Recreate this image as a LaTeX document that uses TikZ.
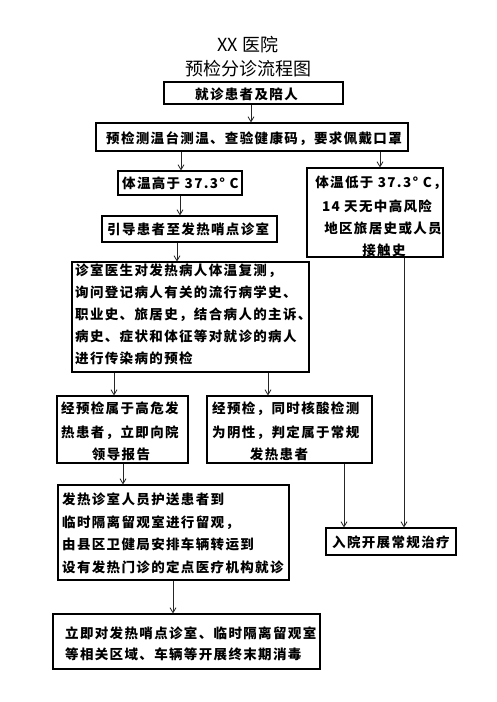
\documentclass[tikz,border=0pt]{standalone}
\usepackage{fontspec}
\usetikzlibrary{arrows.meta}
\newfontfamily\cjk{Noto Sans CJK SC}
\newfontfamily\cjkb{Noto Sans CJK SC}[LetterSpace=10]
\begin{document}
\begin{tikzpicture}[x=1pt,y=-1pt,
  box/.style={draw=black,line width=1.1pt,inner sep=0pt},
  tl/.style={font=\cjkb\bfseries\fontsize{13.5}{15}\selectfont,inner sep=0pt,anchor=base west,yshift=-0.4pt},
  tc/.style={font=\cjkb\bfseries\fontsize{13.5}{15}\selectfont,inner sep=0pt,anchor=base,yshift=-0.4pt},
  ttl/.style={font=\cjk\fontsize{18}{20}\selectfont,inner sep=0pt},
  arr/.style={draw=black!85,line width=0.8pt,-{Straight Barb[length=5pt,width=6pt]}}]
\useasboundingbox[fill=white] (0,0) rectangle (496,702);
% title
\node[ttl] (title1) at (248,45) {XX 医院};
\node[ttl] (title2) at (248,69) {预检分诊流程图};
% boxes
\node[box,minimum width=179pt,minimum height=22pt] (b1) at (253.5,93) {};
\node[box,minimum width=312pt,minimum height=28pt] (b2) at (252,137) {};
\node[box,minimum width=124pt,minimum height=24pt] (b3) at (180,183) {};
\node[box,minimum width=136pt,minimum height=89pt] (bR) at (375,212.5) {};
\node[box,minimum width=175pt,minimum height=26pt] (b4) at (189.5,229) {};
\node[box,minimum width=237pt,minimum height=110pt] (b5) at (190.5,317) {};
\node[box,minimum width=131pt,minimum height=67pt] (b6) at (122.5,429.5) {};
\node[box,minimum width=165pt,minimum height=67pt] (b7) at (289.5,429.5) {};
\node[box,minimum width=231pt,minimum height=95pt] (b8) at (173.5,532.5) {};
\node[box,minimum width=130pt,minimum height=27pt] (b9) at (391,541.5) {};
\node[box,minimum width=267pt,minimum height=55pt] (b10) at (186.5,641.5) {};
% texts
\node[tl] (t1) at (195,98.7) {就诊患者及陪人};
\node[tl] (t2) at (106,142.7) {预检测温台测温、查验健康码，要求佩戴口罩};
\node[tl] (t3) at (122,187.7) {体温高于 37.3° C};
\node[tc] (tR1) at (381,186.7) {体温低于 37.3° C，};
\node[tc] (tR2) at (377,210.7) {14 天无中高风险};
\node[tc] (tR3) at (383,232.7) {地区旅居史或人员};
\node[tc] (tR4) at (384,254.7) {接触史};
\node[tl] (t4) at (107,233.7) {引导患者至发热哨点诊室};
\node[tl] (t5a) at (75,274.7) {诊室医生对发热病人体温复测，};
\node[tl] (t5b) at (75,296.7) {询问登记病人有关的流行病学史、};
\node[tl] (t5c) at (75,318.7) {职业史、旅居史，结合病人的主诉、};
\node[tl] (t5d) at (75,340.7) {病史、症状和体征等对就诊的病人};
\node[tl] (t5e) at (75,362.7) {进行传染病的预检};
\node[tl] (t6a) at (61,412.7) {经预检属于高危发};
\node[tl] (t6b) at (61,436.7) {热患者，立即向院};
\node[tc] (t6c) at (121,458.7) {领导报告};
\node[tl] (t7a) at (212,412.7) {经预检，同时核酸检测};
\node[tl] (t7b) at (212,436.7) {为阴性，判定属于常规};
\node[tc] (t7c) at (279,458.7) {发热患者};
\node[tl] (t8a) at (62,503.7) {发热诊室人员护送患者到};
\node[tl] (t8b) at (62,526.7) {临时隔离留观室进行留观，};
\node[tl] (t8c) at (62,548.7) {由县区卫健局安排车辆转运到};
\node[tl] (t8d) at (62,571.7) {设有发热门诊的定点医疗机构就诊};
\node[tl] (t9) at (332,546.7) {入院开展常规治疗};
\node[tl] (t10a) at (65,637.7) {立即对发热哨点诊室、临时隔离留观室};
\node[tl] (t10b) at (65,658.7) {等相关区域、车辆等开展终末期消毒};
% connectors
\draw[arr] (251,0 |- b1.south) -- (251,0 |- b2.north);
\draw[arr] (181,0 |- b2.south) -- (181,0 |- b3.north);
\draw[arr] (380,0 |- b2.south) -- (380,0 |- bR.north);
\draw[arr] (180,0 |- b3.south) -- (180,0 |- b4.north);
\draw[arr] (177,0 |- b4.south) -- (177,0 |- b5.north);
\draw[arr] (114,0 |- b5.south) -- (114,0 |- b6.north);
\draw[arr] (268,0 |- b5.south) -- (268,0 |- b7.north);
\draw[arr] (123,0 |- b6.south) -- (123,0 |- b8.north);
\draw[arr] (404,0 |- bR.south) -- (404,0 |- b9.north);
\draw[arr] (344,0 |- b7.south) -- (344,0 |- b9.north);
\draw[arr] (173,0 |- b8.south) -- (173,0 |- b10.north);
\end{tikzpicture}
\end{document}
